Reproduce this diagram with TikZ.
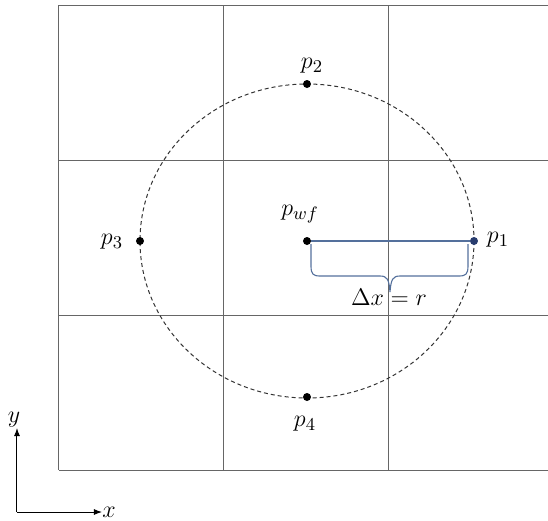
\documentclass[tikz,border=0pt]{standalone}
\usetikzlibrary{arrows.meta}
\definecolor{brl}{RGB}{84,112,156}
\definecolor{bdot}{RGB}{40,60,110}
\begin{document}
\begin{tikzpicture}[x=0.5pt,y=-0.5pt,
  gridline/.style={draw=black!60,line width=0.5pt},
  dot/.style={circle,fill=black,inner sep=0pt,minimum size=4pt},
  bluedot/.style={circle,fill=bdot,inner sep=0pt,minimum size=4pt},
  lbl/.style={inner sep=1pt,font=\fontsize{12.5}{14}\selectfont},
  bluel/.style={draw=brl,line width=0.55pt}]
\useasboundingbox (0,0) rectangle (548,521);
% grid
\draw[gridline] (59,5) -- (548,5);
\draw[gridline] (59,160) -- (548,160);
\draw[gridline] (59,315) -- (548,315);
\draw[gridline] (59,470) -- (548,470);
\draw[gridline] (59,5) -- (59,470);
\draw[gridline] (224,5) -- (224,470);
\draw[gridline] (389,5) -- (389,470);
% dashed circle
\draw[black!80,line width=0.5pt,dash pattern=on 2pt off 1.5pt] (307,241) ellipse [x radius=167,y radius=157];
% points
\node[dot] (pwf) at (307,241) {};
\node[bluedot] (p1) at (474,241) {};
\node[dot] (p2) at (307,84) {};
\node[dot] (p3) at (140,241) {};
\node[dot] (p4) at (307,397) {};
\draw[bluel] (pwf) -- (p1);
% brace
\coordinate (bl) at (311,244);
\coordinate (br) at (468,244);
\coordinate (bt) at (390,292);
\draw[bluel] (bl) -- (311,266) .. controls (311,274) and (313,276) .. (320,276)
  -- (380,276) .. controls (387,276) and (389,279) .. (bt)
  .. controls (391,279) and (393,276) .. (400,276)
  -- (459,276) .. controls (466,276) and (468,274) .. (468,266) -- (br);
% labels
\node[lbl] at (312,66) {$p_2$};
\node[lbl] at (300,214) {$p_{wf}$};
\node[lbl] at (112,242) {$p_3$};
\node[lbl] at (498,240) {$p_1$};
\node[lbl] at (305,424) {$p_4$};
\node[lbl] at (389,297) {$\Delta x = r$};
% axes
\coordinate (o) at (17,512);
\coordinate (ya) at (17,428);
\coordinate (xa) at (102,512);
\draw[black,line width=0.5pt,-{Latex[length=4pt,width=3pt]}] (o) -- (ya);
\draw[black,line width=0.5pt,-{Latex[length=4pt,width=3pt]}] (o) -- (xa);
\node[lbl] at (14,420) {$y$};
\node[lbl] at (109,512) {$x$};
\end{tikzpicture}
\end{document}
